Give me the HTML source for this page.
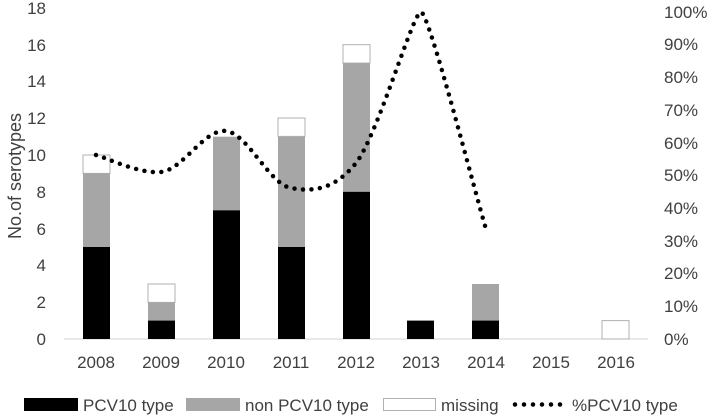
<!DOCTYPE html>
<html><head><style>
body{margin:0;background:#fff}
svg text{font-family:"Liberation Sans",sans-serif;font-size:17px;fill:#404040}
</style></head><body>
<svg width="708" height="415" xmlns="http://www.w3.org/2000/svg">
<line x1="64" y1="339" x2="648" y2="339" stroke="#d0d0d0" stroke-width="1"/>
<g text-anchor="end">
<text x="46" y="345">0</text><text x="46" y="308">2</text><text x="46" y="271">4</text><text x="46" y="235">6</text><text x="46" y="198">8</text><text x="46" y="161">10</text><text x="46" y="124">12</text><text x="46" y="87">14</text><text x="46" y="51">16</text><text x="46" y="14">18</text>
</g>
<g>
<text x="664" y="345">0%</text><text x="664" y="312">10%</text><text x="664" y="279">20%</text><text x="664" y="247">30%</text><text x="664" y="214">40%</text><text x="664" y="181">50%</text><text x="664" y="149">60%</text><text x="664" y="116">70%</text><text x="664" y="83">80%</text><text x="664" y="50">90%</text><text x="664" y="18">100%</text>
</g>
<text transform="translate(21,176) rotate(-90)" text-anchor="middle" style="font-size:18px">No.of serotypes</text>
<g text-anchor="middle">
<text x="96" y="368">2008</text><text x="161" y="368">2009</text><text x="226" y="368">2010</text><text x="291" y="368">2011</text><text x="356" y="368">2012</text><text x="421" y="368">2013</text><text x="486" y="368">2014</text><text x="551" y="368">2015</text><text x="616" y="368">2016</text>
</g>
<g stroke="#b0b0b0" stroke-width="1">
<rect x="83" y="155" width="27" height="18.4" fill="#fff"/>
<rect x="83" y="173.4" width="27" height="73.6" fill="#a6a6a6" stroke="none"/>
<rect x="83" y="247" width="27" height="92" fill="#000" stroke="none"/>
<rect x="148" y="284" width="27" height="18.4" fill="#fff"/>
<rect x="148" y="302.4" width="27" height="18.4" fill="#a6a6a6" stroke="none"/>
<rect x="148" y="320.6" width="27" height="18.4" fill="#000" stroke="none"/>
<rect x="213" y="136.7" width="27" height="73.6" fill="#a6a6a6" stroke="none"/>
<rect x="213" y="210.3" width="27" height="128.7" fill="#000" stroke="none"/>
<rect x="278" y="118" width="27" height="18.4" fill="#fff"/>
<rect x="278" y="136.7" width="27" height="110.3" fill="#a6a6a6" stroke="none"/>
<rect x="278" y="247" width="27" height="92" fill="#000" stroke="none"/>
<rect x="343" y="44.7" width="27" height="18.4" fill="#fff"/>
<rect x="343" y="63" width="27" height="128.8" fill="#a6a6a6" stroke="none"/>
<rect x="343" y="191.8" width="27" height="147.2" fill="#000" stroke="none"/>
<rect x="407" y="320.6" width="27" height="18.4" fill="#000" stroke="none"/>
<rect x="472" y="284" width="27" height="36.8" fill="#a6a6a6" stroke="none"/>
<rect x="472" y="320.6" width="27" height="18.4" fill="#000" stroke="none"/>
<rect x="602" y="320.6" width="27" height="18.4" fill="#fff"/>
</g>
<path d="M96,155 C106.8,158 139.3,174 161,172 C182.7,170 204.3,128.5 226,131 C247.7,133.5 269.3,184.3 291,188 C312.7,192 334.3,190 356,163 C377.7,135.3 413,12 421,12 C429,12 475.2,193.7 486,229" fill="none" stroke="#000" stroke-width="4.5" stroke-linecap="round" stroke-dasharray="0 8.5"/>
<rect x="24" y="398" width="54" height="13" fill="#000"/>
<text x="83" y="411">PCV10 type</text>
<rect x="186" y="398" width="54" height="13" fill="#a6a6a6"/>
<text x="245" y="411">non PCV10 type</text>
<rect x="383.5" y="398.5" width="52" height="12" fill="#fff" stroke="#b0b0b0"/>
<text x="441" y="411">missing</text>
<line x1="515" y1="404.5" x2="561" y2="404.5" stroke="#000" stroke-width="4.5" stroke-linecap="round" stroke-dasharray="0 9"/>
<text x="572" y="411">%PCV10 type</text>
</svg>
</body></html>
